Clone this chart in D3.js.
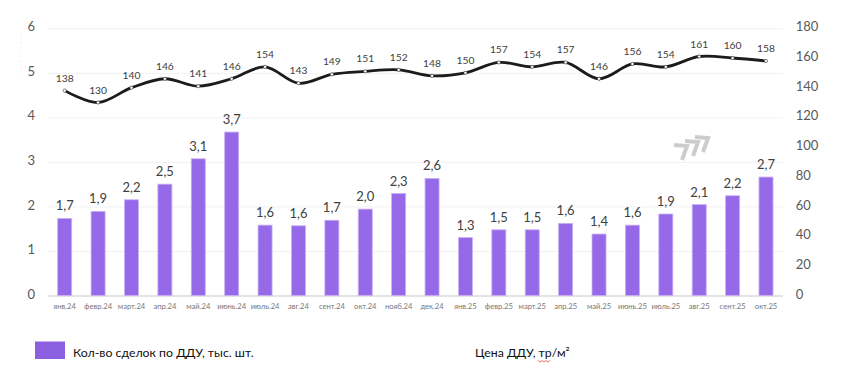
<!DOCTYPE html>
<html>
<head>
<meta charset="utf-8">
<script src="https://cdn.jsdelivr.net/npm/d3@7"></script>
<style>
  html, body { margin: 0; padding: 0; background: #fff; }
  svg { display: block; }
  text { font-family: Lato, "Noto Sans", sans-serif; }
</style>
</head>
<body>
<div id="chart"></div>
<script>
var months = ["янв.24","февр.24","март.24","апр.24","май.24","июнь.24","июль.24","авг.24","сент.24","окт.24","нояб.24","дек.24",
  "янв.25","февр.25","март.25","апр.25","май.25","июнь.25","июль.25","авг.25","сент.25","окт.25"];
// bar heights, labels as printed on it
var deals = [1.73,1.89,2.15,2.50,3.07,3.67,1.58,1.565,1.69,1.94,2.29,2.63,1.30,1.475,1.475,1.62,1.38,1.58,1.83,2.04,2.24,2.66];
var dealLabels = ["1,7","1,9","2,2","2,5","3,1","3,7","1,6","1,6","1,7","2,0","2,3","2,6","1,3","1,5","1,5","1,6","1,4","1,6","1,9","2,1","2,2","2,7"];
var prices = [138,130,140,146,141,146,154,143,149,151,152,148,150,157,154,157,146,156,154,161,160,158];
var leftTicks = [0,1,2,3,4,5,6];
var rightTicks = [0,20,40,60,80,100,120,140,160,180];
var legendBars = "Кол-во сделок по ДДУ, тыс. шт.";
var legendLine = "Цена ДДУ, тр/м²";

var margin = {top: 28.3, right: 68.3, bottom: 79.5, left: 48},
  width = 851 - margin.left - margin.right,
  height = 375 - margin.top - margin.bottom;

var svg = d3.select("#chart")
.append("svg")
  .attr("width", 851)
  .attr("height", 375);

var g = svg.append("g")
  .attr("transform", "translate(" + margin.left + "," + margin.top + ")");

var x = d3.scaleBand()
  .domain(months)
  .range([0, width])
  .paddingInner(0.58)
  .paddingOuter(0.29);

var yLeft = d3.scaleLinear().domain([0, 6]).range([height, 0]);
var yRight = d3.scaleLinear().domain([0, 180]).range([height, 0]);

// left axis + grid
var leftAxis = g.append("g")
  .call(d3.axisLeft(yLeft).tickValues(leftTicks).tickFormat(d3.format("d")).tickSize(-width).tickPadding(13));
leftAxis.select(".domain").remove();
leftAxis.selectAll("line").attr("stroke", "#f1f1f1");
leftAxis.selectAll("text")
  .style("font-size", "13px")
  .attr("dy", "0.2em")
  .attr("fill", "#595959");

// right axis
var rightAxis = g.append("g")
  .attr("transform", "translate(" + width + ",0)")
  .call(d3.axisRight(yRight).tickValues(rightTicks).tickSize(0).tickPadding(13));
rightAxis.select(".domain").remove();
rightAxis.selectAll("text")
  .style("font-size", "13px")
  .attr("dy", "0.2em")
  .attr("fill", "#595959");

// bottom axis
var bottomAxis = g.append("g")
  .attr("transform", "translate(0," + height + ")")
  .call(d3.axisBottom(x).tickSize(0).tickPadding(8));
bottomAxis.select(".domain").attr("stroke", "#dcdcdc").attr("stroke-width", 1.5);
bottomAxis.selectAll("text")
  .style("font-size", "7.6px")
  .attr("fill", "#777");

// bars
g.selectAll(".bar")
  .data(months)
  .enter()
  .append("rect")
    .attr("class", "bar")
    .attr("x", function(d) { return x(d); })
    .attr("y", function(d, i) { return yLeft(deals[i]); })
    .attr("width", x.bandwidth())
    .attr("height", function(d, i) { return height - yLeft(deals[i]); })
    .attr("fill", "#9669e8")
    .attr("stroke", "#c9b2f4")
    .attr("stroke-width", 0.8);

g.selectAll(".barlabel")
  .data(months)
  .enter()
  .append("text")
    .attr("class", "barlabel")
    .attr("x", function(d) { return x(d) + x.bandwidth() / 2; })
    .attr("y", function(d, i) { return yLeft(deals[i]) - 8; })
    .attr("text-anchor", "middle")
    .style("font-size", "13px")
    .attr("fill", "#404040")
    .text(function(d, i) { return dealLabels[i]; });

// price line
var line = d3.line()
  .x(function(d, i) { return x(months[i]) + x.bandwidth() / 2; })
  .y(function(d) { return yRight(d); })
  .curve(d3.curveCatmullRom.alpha(0));

g.append("path")
  .datum(prices)
  .attr("fill", "none")
  .attr("stroke", "#1c1c1c")
  .attr("stroke-width", 2.8)
  .attr("d", line);

g.selectAll(".dot")
  .data(prices)
  .enter()
  .append("circle")
    .attr("class", "dot")
    .attr("cx", function(d, i) { return x(months[i]) + x.bandwidth() / 2; })
    .attr("cy", function(d) { return yRight(d); })
    .attr("r", 1.6)
    .attr("fill", "#fff")
    .attr("stroke", "#333")
    .attr("stroke-width", 0.6);

g.selectAll(".pricelabel")
  .data(prices)
  .enter()
  .append("text")
    .attr("class", "pricelabel")
    .attr("x", function(d, i) { return x(months[i]) + x.bandwidth() / 2; })
    .attr("y", function(d) { return yRight(d) - 9; })
    .attr("text-anchor", "middle")
    .style("font-size", "10.3px")
    .attr("fill", "#404040")
    .text(function(d) { return d; });

// grey chevrons above the last bars
svg.selectAll(".chevron")
  .data([[687, 145], [698, 141], [708, 137]])
  .enter()
  .append("path")
    .attr("class", "chevron")
    .attr("transform", function(d) { return "translate(" + d[0] + "," + d[1] + ")"; })
    .attr("d", "M-13,0L0,1L-5,15")
    .attr("fill", "none")
    .attr("stroke", "#cccccc")
    .attr("stroke-width", 4);

// faint dotted mark left of the axis labels
svg.append("line")
  .attr("x1", 21).attr("x2", 21)
  .attr("y1", 33).attr("y2", 75)
  .attr("stroke", "#eeeeee")
  .attr("stroke-width", 1)
  .attr("stroke-dasharray", "1.5 3");

// legend
svg.append("rect")
  .attr("x", 35).attr("y", 341.5)
  .attr("width", 30).attr("height", 17.5)
  .attr("fill", "#8c5fe0");

svg.append("text")
  .attr("x", 73).attr("y", 357)
  .style("font-size", "12.3px")
  .attr("fill", "#111")
  .text(legendBars);

svg.append("text")
  .attr("x", 475).attr("y", 357)
  .style("font-size", "12.3px")
  .attr("fill", "#111")
  .text(legendLine);

// spellcheck squiggle under "тр"
svg.append("path")
  .attr("d", "M538,360.5l2,1.5l2,-1.5l2,1.5l2,-1.5l2,1.5l2,-1.5")
  .attr("fill", "none")
  .attr("stroke", "#d9534f")
  .attr("stroke-width", 0.8);
</script>
</body>
</html>
